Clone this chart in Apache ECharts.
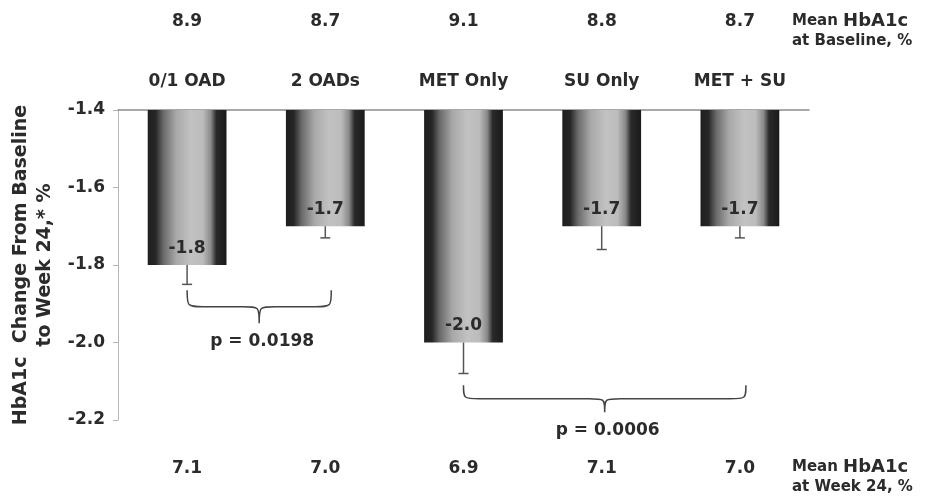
<!DOCTYPE html>
<html><head><meta charset="utf-8">
<script src="https://cdn.jsdelivr.net/npm/echarts@6/dist/echarts.min.js"></script>
<style>html,body{margin:0;padding:0;background:#fff}#c{width:928px;height:500px}</style>
</head><body><div id="c"></div>
<script>
var categories = ['0/1 OAD', '2 OADs', 'MET Only', 'SU Only', 'MET + SU'];
var baselineHbA1c = ['8.9', '8.7', '9.1', '8.8', '8.7'];
var week24HbA1c = ['7.1', '7.0', '6.9', '7.1', '7.0'];
var change = [-1.8, -1.7, -2.0, -1.7, -1.7];
var errorLow = [-1.85, -1.73, -2.08, -1.76, -1.73];
var yTicks = [-2.2, -2.0, -1.8, -1.6, -1.4];
// comparisons: [fromIndex, toIndex, braceTopValue, braceTipValue, label]
var comparisons = [
  [0, 1, -1.865, -1.95, 'p = 0.0198'],
  [2, 4, -2.11, -2.18, 'p = 0.0006']
];

var FONT = 'DejaVu Sans';
var TXT = '#2b2b2b';
var chart = echarts.init(document.getElementById('c'));

var barGradient = new echarts.graphic.LinearGradient(0, 0, 1, 0, [
  {offset: 0, color: '#1e1e1e'},
  {offset: 0.1, color: '#262626'},
  {offset: 0.2, color: '#6a6a6a'},
  {offset: 0.36, color: '#a8a8a8'},
  {offset: 0.55, color: '#c2c2c2'},
  {offset: 0.7, color: '#bcbcbc'},
  {offset: 0.8, color: '#8a8a8a'},
  {offset: 0.87, color: '#2a2a2a'},
  {offset: 1, color: '#1a1a1a'}
]);

chart.setOption({
  animation: false,
  grid: {left: 118, right: 119, top: 110, bottom: 80, outerBoundsMode: 'none', containLabel: false},
  xAxis: [
    {type: 'category', data: categories, position: 'top',
     axisLine: {show: true, lineStyle: {color: '#8c8c8c', width: 1.5}},
     axisTick: {show: false},
     axisLabel: {margin: 20, fontFamily: FONT, fontWeight: 'bold', fontSize: 17, color: TXT}},
    {type: 'category', data: baselineHbA1c, position: 'top', offset: 60, gridIndex: 0,
     axisLine: {show: false}, axisTick: {show: false},
     axisLabel: {margin: 20, fontFamily: FONT, fontWeight: 'bold', fontSize: 17, color: TXT}},
    {type: 'category', data: week24HbA1c, position: 'bottom', gridIndex: 0,
     axisLine: {show: false}, axisTick: {show: false},
     axisLabel: {margin: 40, fontFamily: FONT, fontWeight: 'bold', fontSize: 17, color: TXT}}
  ],
  yAxis: {
    type: 'value', min: yTicks[0], max: yTicks[yTicks.length - 1], interval: 0.2,
    axisLine: {show: true, lineStyle: {color: '#b5b5b5'}},
    axisTick: {show: true, length: 5, lineStyle: {color: '#b5b5b5'}},
    splitLine: {show: false},
    axisLabel: {margin: 13, fontFamily: FONT, fontWeight: 'bold', fontSize: 17, color: TXT,
      formatter: function (v) { return v.toFixed(1); }},
    name: 'HbA1c  Change From Baseline\nto Week 24,* %',
    nameLocation: 'middle', nameRotate: 90, nameGap: 52,
    nameTextStyle: {fontFamily: FONT, fontWeight: 'bold', fontSize: 19, color: TXT, lineHeight: 24}
  },
  graphic: [
    {type: 'text', left: 792, top: 12, style: {
      text: '{s|Mean }{b|HbA1c}\n{s|at Baseline, %}',
      rich: {s: {fontFamily: FONT, fontWeight: 'bold', fontSize: 15, fill: TXT, lineHeight: 20},
             b: {fontFamily: FONT, fontWeight: 'bold', fontSize: 18, fill: TXT, lineHeight: 20}}}},
    {type: 'text', left: 792, top: 458, style: {
      text: '{s|Mean }{b|HbA1c}\n{s|at Week 24, %}',
      rich: {s: {fontFamily: FONT, fontWeight: 'bold', fontSize: 15, fill: TXT, lineHeight: 20},
             b: {fontFamily: FONT, fontWeight: 'bold', fontSize: 18, fill: TXT, lineHeight: 20}}}}
  ],
  series: [
    {type: 'bar', data: change, barWidth: '57%', xAxisIndex: 0,
     itemStyle: {color: barGradient},
     label: {show: true, position: 'insideBottom', distance: 8,
       fontFamily: FONT, fontWeight: 'bold', fontSize: 17, color: TXT,
       formatter: function (p) { return p.value.toFixed(1); }}},
    {type: 'custom', xAxisIndex: 0, z: 3,
     data: change.map(function (v, i) { return [i, v, errorLow[i]]; }),
     renderItem: function (params, api) {
       var top = api.coord([api.value(0), api.value(1)]);
       var bot = api.coord([api.value(0), api.value(2)]);
       var st = {stroke: '#555', lineWidth: 1.5};
       return {type: 'group', children: [
         {type: 'line', shape: {x1: top[0], y1: top[1], x2: bot[0], y2: bot[1]}, style: st},
         {type: 'line', shape: {x1: bot[0] - 5, y1: bot[1], x2: bot[0] + 5, y2: bot[1]}, style: st}
       ]};
     }},
    {type: 'custom', xAxisIndex: 0, z: 3, clip: false,
     data: comparisons.map(function (c) { return [c[0], c[1], c[2], c[3]]; }),
     renderItem: function (params, api) {
       var c = comparisons[params.dataIndex];
       var a = api.coord([c[0], c[2]]);
       var b = api.coord([c[1], c[2]]);
       var t = api.coord([c[0], c[3]]);
       var x1 = a[0], x2 = b[0] + 6, y0 = a[1], yt = t[1], xm = (x1 + x2) / 2;
       var ym = (y0 + yt) / 2;
       var r = 16;
       var d = 'M' + x1 + ' ' + y0 +
         ' C' + x1 + ' ' + ym + ' ' + x1 + ' ' + ym + ' ' + (x1 + r) + ' ' + ym +
         ' L' + (xm - r) + ' ' + ym +
         ' C' + xm + ' ' + ym + ' ' + xm + ' ' + ym + ' ' + xm + ' ' + yt +
         ' C' + xm + ' ' + ym + ' ' + xm + ' ' + ym + ' ' + (xm + r) + ' ' + ym +
         ' L' + (x2 - r) + ' ' + ym +
         ' C' + x2 + ' ' + ym + ' ' + x2 + ' ' + ym + ' ' + x2 + ' ' + y0;
       return {type: 'group', children: [
         {type: 'path', shape: {pathData: d}, style: {fill: null, stroke: '#444', lineWidth: 1.5}},
         {type: 'text', x: xm + 3, y: yt + 10, style: {text: c[4], align: 'center', verticalAlign: 'top',
           fontFamily: FONT, fontWeight: 'bold', fontSize: 17, fill: TXT}}
       ]};
     }}
  ]
});
</script></body></html>
